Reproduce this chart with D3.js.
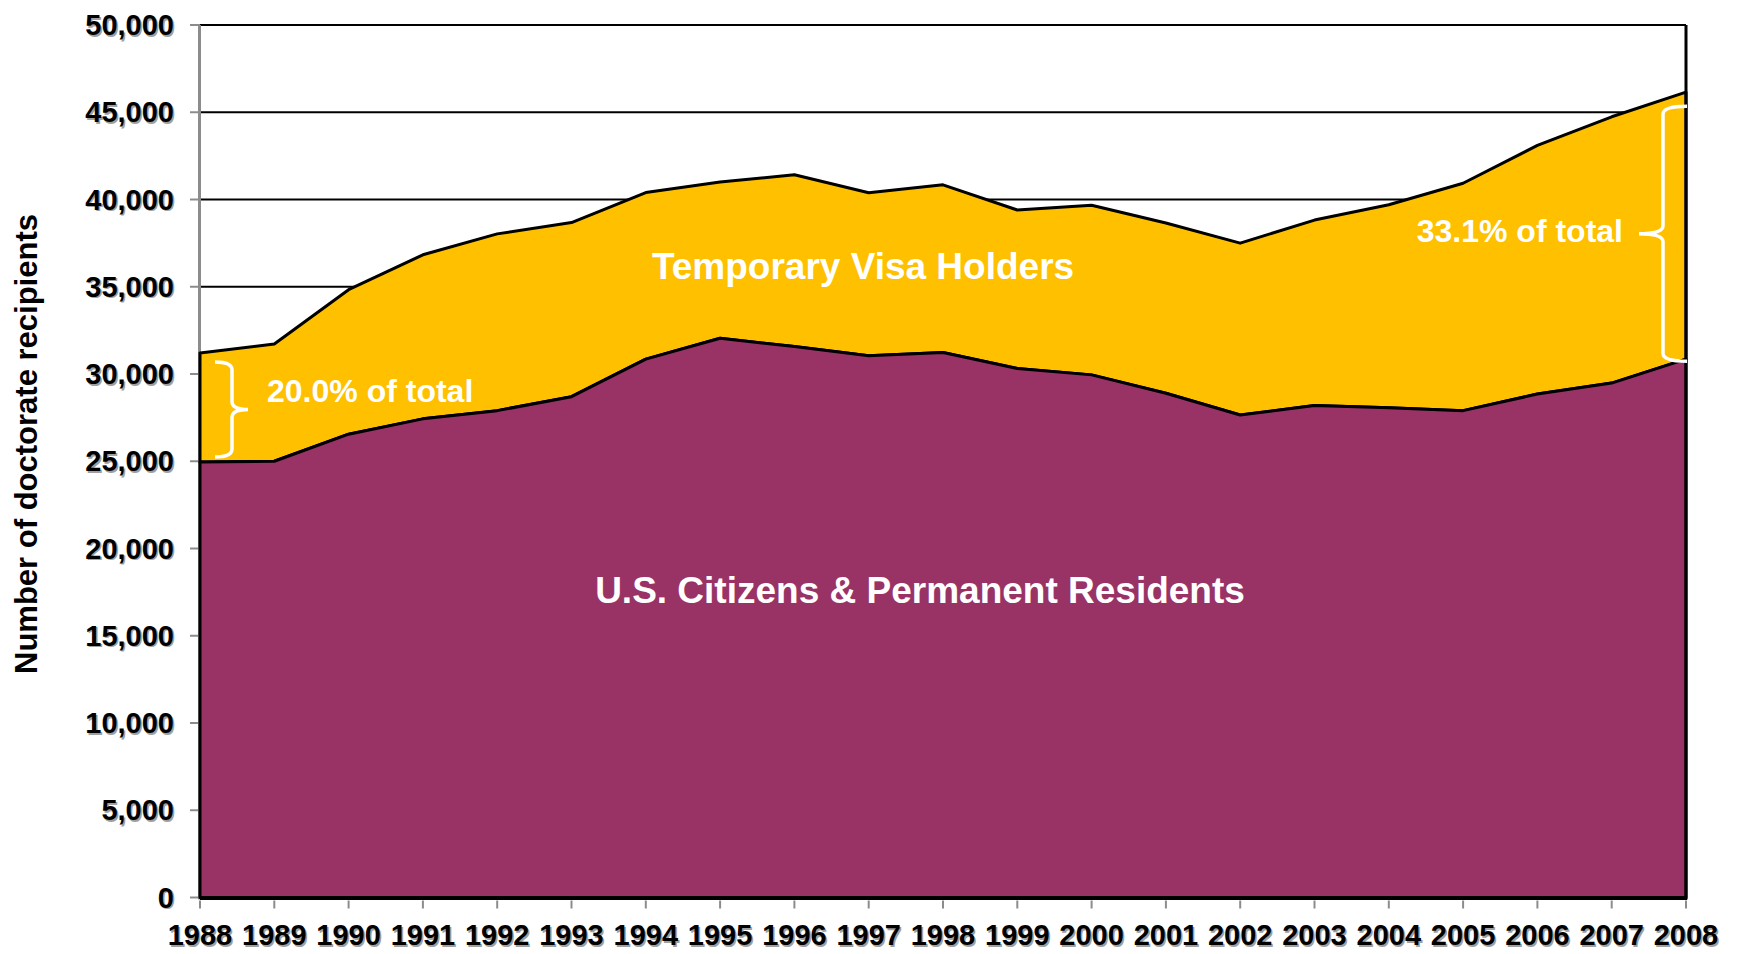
<!DOCTYPE html>
<html>
<head>
<meta charset="utf-8">
<script src="https://cdn.jsdelivr.net/npm/d3@7"></script>
<style>
  body { margin: 0; background: #fff; }
  svg { display: block; }
  text { font-family: "Liberation Sans", Arial, sans-serif; font-weight: bold; }
</style>
</head>
<body>
<div id="chart"></div>
<script>
// doctorate recipients by citizenship, 1988-2008
const years = [1988, 1989, 1990, 1991, 1992, 1993, 1994, 1995, 1996, 1997, 1998,
  1999, 2000, 2001, 2002, 2003, 2004, 2005, 2006, 2007, 2008];
const usCitizens = [24950, 25000, 26550, 27430, 27900, 28700, 30850, 32050, 31570, 31050, 31230,
  30320, 29950, 28900, 27650, 28200, 28070, 27900, 28850, 29480, 30850];
const tempVisa = [6250, 6720, 8280, 9400, 10130, 9980, 9550, 8950, 9850, 9340, 9610,
  9080, 9720, 9750, 9850, 10620, 11630, 13030, 14250, 15260, 15300];
const yTicks = [0, 5000, 10000, 15000, 20000, 25000, 30000, 35000, 40000, 45000, 50000];

const width = 1737;
const height = 954;

const rows = years.map((yr, i) => ({ year: yr, us: usCitizens[i], temp: tempVisa[i] }));

const x = d3.scaleLinear().domain([1988, 2008]).range([200, 1686]);
const y = d3.scaleLinear().domain([0, 50000]).range([897.5, 25]);

const svg = d3.select('#chart').append('svg')
  .attr('width', width)
  .attr('height', height);

// gridlines (behind the areas)
svg.append('g')
  .selectAll('line')
  .data(yTicks.filter(d => d > 0))
  .join('line')
  .attr('x1', x(1988))
  .attr('x2', x(2008))
  .attr('y1', d => y(d))
  .attr('y2', d => y(d))
  .attr('stroke', '#000')
  .attr('stroke-width', 2);

// y axis line + ticks, grey
svg.append('line')
  .attr('x1', x(1988) - 0.5).attr('x2', x(1988) - 0.5)
  .attr('y1', y(50000)).attr('y2', y(0) + 2)
  .attr('stroke', '#8c8c8c')
  .attr('stroke-width', 3);

svg.append('g')
  .selectAll('line')
  .data(yTicks)
  .join('line')
  .attr('x1', x(1988) - 10)
  .attr('x2', x(1988))
  .attr('y1', d => y(d))
  .attr('y2', d => y(d))
  .attr('stroke', '#8c8c8c')
  .attr('stroke-width', 2);

// stacked areas
const series = d3.stack().keys(['us', 'temp'])(rows);
const colours = { us: '#993366', temp: '#FFC000' };

const area = d3.area()
  .x(d => x(d.data.year))
  .y0(d => y(d[0]))
  .y1(d => y(d[1]));

svg.append('g')
  .selectAll('path')
  .data(series.slice().reverse())
  .join('path')
  .attr('d', area)
  .attr('fill', d => colours[d.key])
  .attr('stroke', '#000')
  .attr('stroke-width', 3)
  .attr('stroke-linejoin', 'round');

// bottom axis line and right border
svg.append('line')
  .attr('x1', x(1988)).attr('x2', x(2008) + 1)
  .attr('y1', y(0) + 1).attr('y2', y(0) + 1)
  .attr('stroke', '#000')
  .attr('stroke-width', 3);

svg.append('line')
  .attr('x1', x(2008)).attr('x2', x(2008))
  .attr('y1', y(50000)).attr('y2', y(0) + 2)
  .attr('stroke', '#000')
  .attr('stroke-width', 3);

// x ticks
svg.append('g')
  .selectAll('line')
  .data(years)
  .join('line')
  .attr('x1', d => x(d))
  .attr('x2', d => x(d))
  .attr('y1', y(0) + 3)
  .attr('y2', y(0) + 11)
  .attr('stroke', '#8c8c8c')
  .attr('stroke-width', 2);

const fmt = d3.format(',');

// tick labels with a soft grey shadow like the original
function shadowText(g, data, opts) {
  [['#a0a0a0', 1.5], ['#000', 0]].forEach(([fill, off]) => {
    g.append('g')
      .selectAll('text')
      .data(data)
      .join('text')
      .attr('x', d => opts.x(d) + off)
      .attr('y', d => opts.y(d) + off)
      .attr('text-anchor', opts.anchor)
      .attr('font-size', opts.size)
      .attr('fill', fill)
      .text(opts.text);
  });
}

shadowText(svg.append('g'), yTicks, {
  x: () => 174,
  y: d => y(d) + 10,
  anchor: 'end',
  size: 29,
  text: d => fmt(d)
});

shadowText(svg.append('g'), years, {
  x: d => x(d),
  y: () => 945,
  anchor: 'middle',
  size: 29,
  text: d => d
});

// y axis title
svg.append('text')
  .attr('transform', 'translate(37, 444) rotate(-90)')
  .attr('text-anchor', 'middle')
  .attr('font-size', 31)
  .attr('fill', '#000')
  .text('Number of doctorate recipients');

// series labels
svg.append('text')
  .attr('x', 863)
  .attr('y', 279)
  .attr('text-anchor', 'middle')
  .attr('font-size', 37)
  .attr('fill', '#fff')
  .text('Temporary Visa Holders');

svg.append('text')
  .attr('x', 920)
  .attr('y', 603)
  .attr('text-anchor', 'middle')
  .attr('font-size', 37)
  .attr('fill', '#fff')
  .text('U.S. Citizens & Permanent Residents');

// braces for share of temporary visa holders
const first = rows[0];
const last = rows[rows.length - 1];

function brace(tipX, spineX, endX, top, bottom) {
  const mid = (top + bottom) / 2;
  const r = 8;
  return `M${endX},${top} Q${spineX},${top} ${spineX},${top + r}` +
    ` L${spineX},${mid - r} Q${spineX},${mid} ${tipX},${mid}` +
    ` Q${spineX},${mid} ${spineX},${mid + r}` +
    ` L${spineX},${bottom - r} Q${spineX},${bottom} ${endX},${bottom}`;
}

const leftTop = y(first.us + first.temp) + 9;
const leftBottom = y(first.us) - 5;
svg.append('path')
  .attr('d', brace(x(first.year) + 48, x(first.year) + 32, x(first.year) + 15, leftTop, leftBottom))
  .attr('fill', 'none')
  .attr('stroke', '#fff')
  .attr('stroke-width', 3.5);

svg.append('text')
  .attr('x', 267)
  .attr('y', 402)
  .attr('font-size', 32)
  .attr('fill', '#fff')
  .text('20.0% of total');

const rightTop = y(last.us + last.temp) + 14;
const rightBottom = y(last.us) + 2;
svg.append('path')
  .attr('d', brace(x(last.year) - 47, x(last.year) - 23, x(last.year) + 1, rightTop, rightBottom))
  .attr('fill', 'none')
  .attr('stroke', '#fff')
  .attr('stroke-width', 3.5);

svg.append('text')
  .attr('x', 1623)
  .attr('y', 242)
  .attr('text-anchor', 'end')
  .attr('font-size', 32)
  .attr('fill', '#fff')
  .text('33.1% of total');
</script>
</body>
</html>
